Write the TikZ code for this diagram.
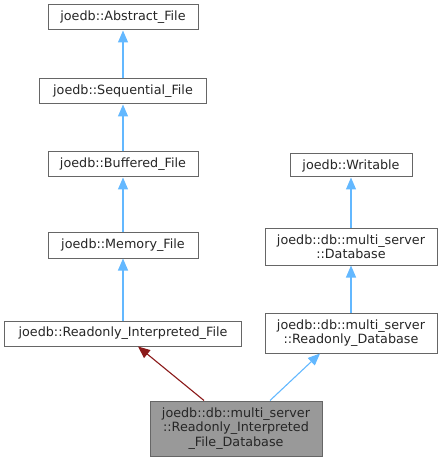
\documentclass[tikz,border=0pt]{standalone}
\usepackage{fontspec}
\setmainfont{DejaVu Sans}
\usetikzlibrary{arrows.meta}
\definecolor{boxborder}{HTML}{666666}
\definecolor{curfill}{HTML}{999999}
\definecolor{inhblue}{HTML}{63B8FF}
\definecolor{inhred}{HTML}{8B1A1A}
\begin{document}
\begin{tikzpicture}[x=1bp,y=-1bp,
  cls/.style={draw=boxborder, fill=white, line width=1bp, rectangle, inner sep=0pt,
    align=center, font=\fontsize{12.8}{14.5}\selectfont, text=black!85},
  cur/.style={cls, fill=curfill},
  pub/.style={draw=inhblue, line width=1.1bp, -{Triangle[length=12bp,width=10bp]}},
  prot/.style={draw=inhred, line width=1.1bp, -{Triangle[length=12bp,width=10bp]}, inhred}]
\useasboundingbox (0,0) rectangle (443,461);
\node[cls, minimum width=150bp, minimum height=25bp] (abs) at (123,17.5) {joedb::Abstract\_File};
\node[cls, minimum width=166bp, minimum height=25bp] (seq) at (123,91.5) {joedb::Sequential\_File};
\node[cls, minimum width=150bp, minimum height=25bp] (buf) at (123,164.5) {joedb::Buffered\_File};
\node[cls, minimum width=150bp, minimum height=26bp] (mem) at (123,245) {joedb::Memory\_File};
\node[cls, minimum width=236bp, minimum height=25bp] (rif) at (123,333.5) {joedb::Readonly\_Interpreted\_File};
\node[cls, minimum width=122bp, minimum height=23bp] (wr) at (351,165.5) {joedb::Writable};
\node[cls, minimum width=172bp, minimum height=37bp] (db) at (351,246.5) {joedb::db::multi\_server\\::Database};
\node[cls, minimum width=172bp, minimum height=40bp] (rdb) at (351,333) {joedb::db::multi\_server\\::Readonly\_Database};
\node[cur, minimum width=172bp, minimum height=55bp] (me) at (236,428.5) {joedb::db::multi\_server\\::Readonly\_Interpreted\\\_File\_Database};
\draw[pub] (seq.north) -- (abs.south);
\draw[pub] (buf.north) -- (seq.south);
\draw[pub] (mem.north) -- (buf.south);
\draw[pub] (rif.north) -- (mem.south);
\draw[pub] (db.north) -- (wr.south);
\draw[pub] (rdb.north) -- (db.south);
\draw[prot] (me.north -| 204,0) -- (rif.south -| 138,0);
\draw[pub] (me.north -| 270,0) -- (rdb.south -| 320,0);
\end{tikzpicture}
\end{document}
